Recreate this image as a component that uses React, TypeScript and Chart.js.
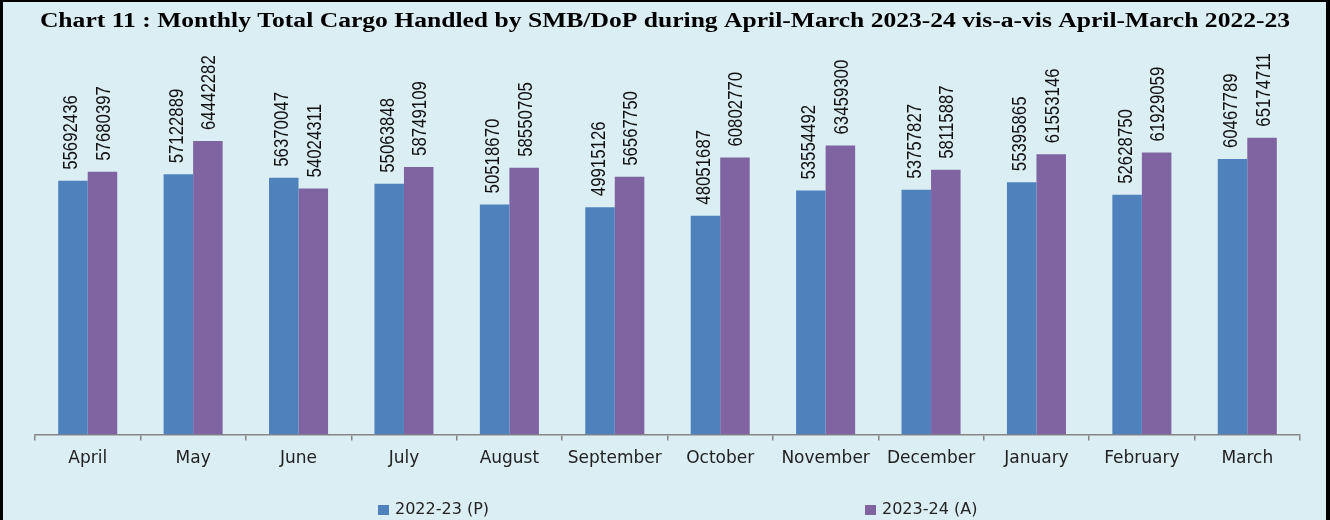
import React, { useEffect, useRef } from "react";
import { Chart, registerables } from "chart.js";

Chart.register(...registerables);

const TITLE =
  "Chart 11 : Monthly Total Cargo Handled by SMB/DoP during April-March 2023-24 vis-a-vis April-March 2022-23";

const months = [
  "April", "May", "June", "July", "August", "September",
  "October", "November", "December", "January", "February", "March",
];

const series2022Label = "2022-23 (P)";
const series2022 = [
  55692436, 57122889, 56370047, 55063848, 50518670, 49915126,
  48051687, 53554492, 53757827, 55395865, 52628750, 60467789,
];

const series2023Label = "2023-24 (A)";
const series2023 = [
  57680397, 64442282, 54024311, 58749109, 58550705, 56567750,
  60802770, 63459300, 58115887, 61553146, 61929059, 65174711,
];

const BLUE = "#4F81BD";
const PURPLE = "#8064A2";
const BG = "#DAEEF3";

const backgroundPlugin = {
  id: "bgBorder",
  beforeDraw(chart: any) {
    const { ctx, width, height } = chart;
    ctx.save();
    ctx.fillStyle = BG;
    ctx.fillRect(0, 0, width, height);
    ctx.fillStyle = "#000";
    ctx.fillRect(0, 0, 3, height); // left
    ctx.fillRect(0, 0, width, 2); // top
    ctx.fillRect(width - 4, 0, 4, height); // right
    ctx.restore();
  },
};

// Title drawn in a wide (horizontally stretched) serif face, like the original
const titlePlugin = {
  id: "stretchedTitle",
  afterDraw(chart: any) {
    const { ctx, width } = chart;
    ctx.save();
    ctx.font = 'bold 20px "Liberation Serif", serif';
    ctx.fillStyle = "#000";
    ctx.textAlign = "center";
    ctx.textBaseline = "middle";
    const target = width * 0.94;
    const measured = ctx.measureText(TITLE).width;
    const sx = target / measured;
    ctx.translate(width / 2, 22);
    ctx.scale(sx, 1);
    ctx.fillText(TITLE, 0, 0);
    ctx.restore();
  },
};

const valueLabelPlugin = {
  id: "valueLabels",
  afterDatasetsDraw(chart: any) {
    const { ctx } = chart;
    ctx.save();
    ctx.fillStyle = "#111";
    ctx.font = '20px "Liberation Sans", Arial, sans-serif';
    ctx.textAlign = "left";
    ctx.textBaseline = "middle";
    chart.data.datasets.forEach((ds: any, di: number) => {
      const meta = chart.getDatasetMeta(di);
      meta.data.forEach((el: any, i: number) => {
        const v = ds.data[i];
        ctx.save();
        ctx.translate(el.x + (di === 0 ? -1 : 2), el.y - 11);
        ctx.rotate(-Math.PI / 2);
        ctx.scale(0.84, 1);
        ctx.fillText(String(v), 0, 0);
        ctx.restore();
      });
    });
    ctx.restore();
  },
};

const customLegendPlugin = {
  id: "customLegend",
  afterDraw(chart: any) {
    const { ctx, width } = chart;
    const starts = [0.2842, 0.6504];
    const y = 510;
    ctx.save();
    ctx.font = '16px "DejaVu Sans", sans-serif';
    ctx.textBaseline = "middle";
    ctx.textAlign = "left";
    chart.data.datasets.forEach((ds: any, i: number) => {
      const x = Math.round(starts[i] * width);
      ctx.fillStyle = ds.backgroundColor;
      ctx.fillRect(x, y - 5, 11, 10);
      ctx.fillStyle = "#222";
      ctx.fillText(ds.label, x + 17, y);
    });
    ctx.restore();
  },
};

export default function App() {
  const ref = useRef<HTMLCanvasElement | null>(null);

  useEffect(() => {
    document.body.style.margin = "0";
    const canvas = ref.current;
    if (!canvas) return;
    const chart = new Chart(canvas, {
      type: "bar",
      data: {
        labels: months,
        datasets: [
          {
            label: series2022Label,
            data: series2022,
            backgroundColor: BLUE,
            borderWidth: 0,
          },
          {
            label: series2023Label,
            data: series2023,
            backgroundColor: PURPLE,
            borderWidth: 0,
          },
        ],
      },
      options: {
        responsive: false,
        animation: false,
        maintainAspectRatio: false,
        devicePixelRatio: 1,
        layout: { padding: { left: 35, right: 30, top: 61, bottom: 43 } },
        datasets: {
          bar: { categoryPercentage: 0.56, barPercentage: 1.0 },
        },
        plugins: {
          legend: { display: false },
          tooltip: { enabled: false },
          title: { display: false },
        },
        scales: {
          x: {
            grid: {
              offset: true,
              drawOnChartArea: false,
              drawTicks: true,
              tickLength: 6,
              color: "#868686",
              lineWidth: 1.5,
            },
            border: { display: true, color: "#868686", width: 1.5 },
            ticks: {
              color: "#222",
              font: { family: '"DejaVu Sans", sans-serif', size: 17 },
              padding: 8,
              maxRotation: 0,
              autoSkip: false,
            },
          },
          y: {
            display: false,
            min: 0,
            max: 82000000,
          },
        },
      },
      plugins: [backgroundPlugin, titlePlugin, valueLabelPlugin, customLegendPlugin],
    });
    return () => chart.destroy();
  }, []);

  return <canvas ref={ref} width={1330} height={520} style={{ display: "block" }} />;
}
